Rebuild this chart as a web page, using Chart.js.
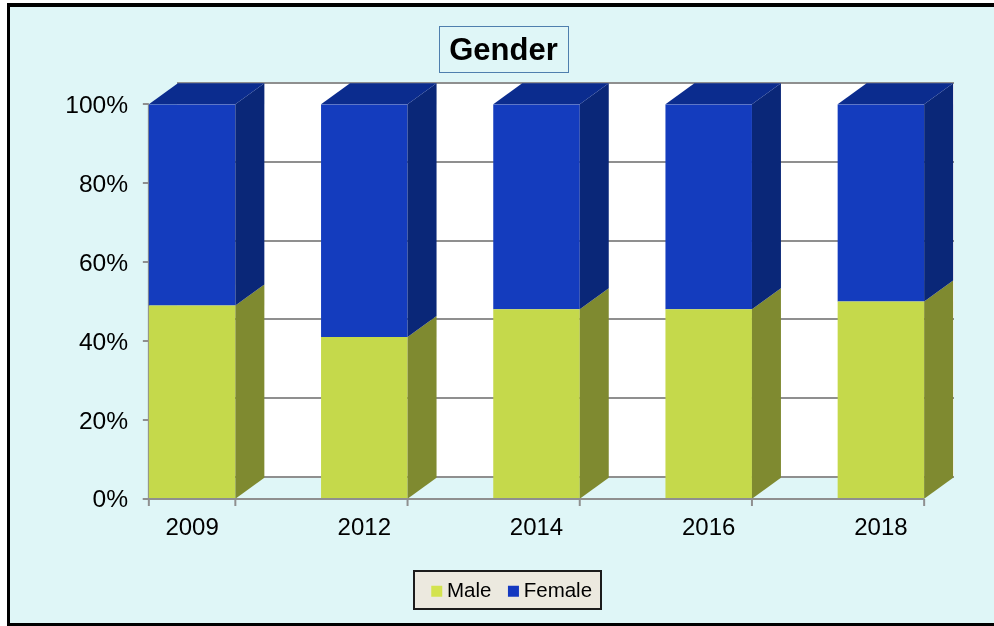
<!DOCTYPE html>
<html><head><meta charset="utf-8">
<style>html,body{margin:0;padding:0;background:#fff}#w{width:994px;height:626px}canvas{display:block}</style>
<script src="https://cdn.jsdelivr.net/npm/chart.js@4"></script>
</head><body><div id="w"><canvas id="c" width="994" height="626"></canvas></div>
<script>
const categories = ['2009','2012','2014','2016','2018'];
const maleValues = [49,41,48,48,50];
const femaleValues = [51,59,52,52,50];
const seriesNames = ['Male','Female'];
const chartTitle = 'Gender';

const frontColors = ['#c5d94b','#143cbe'];
const sideColors = ['#7f8a30','#0a2778'];
const swatchColors = ['#d3e34f','#1438c0'];
const topColor = '#0b2c8e';
const bgColor = '#dff6f7';
const axisGray = '#8f8f8f';
const DX = 29, DY = 21;
const FONT = 'Liberation Sans, Arial, sans-serif';

const threeD = {
  id:'threeD',
  afterLayout(chart){
    const t = chart.titleBlock, l = chart.legend;
    t.left = 439; t.right = 568;
    l.left = 414.75; l.right = 994; l.top = 559;
  },
  beforeDraw(chart){
    const {ctx,scales:{y}} = chart;
    ctx.save();
    ctx.fillStyle = '#000'; ctx.fillRect(7,3,987,623);
    ctx.fillStyle = bgColor; ctx.fillRect(10,7,984,616);
    // title frame
    ctx.strokeStyle = '#4f7fae'; ctx.lineWidth = 1;
    ctx.strokeRect(439.5,26.5,129,46);
    // legend frame
    ctx.fillStyle = '#ece9df'; ctx.fillRect(413,570,189,40);
    ctx.strokeStyle = '#1c1c1c'; ctx.lineWidth = 2;
    ctx.strokeRect(414,571,187,38);
    // back wall
    const bx = 148+DX, rx = 925+DX;
    const top = y.getPixelForValue(100)-DY, bot = y.getPixelForValue(0)-DY;
    ctx.fillStyle = '#fff'; ctx.fillRect(bx,top,rx-bx,bot-top);
    ctx.strokeStyle = axisGray; ctx.lineWidth = 2;
    y.ticks.forEach(tk=>{
      const py = Math.floor(y.getPixelForValue(tk.value)-DY);
      ctx.beginPath(); ctx.moveTo(bx,py); ctx.lineTo(rx,py); ctx.stroke();
    });
    // y axis line and tick marks
    const x0 = chart.getDatasetMeta(0).data[0];
    const ax = x0.x-x0.width/2;
    ctx.beginPath(); ctx.moveTo(ax,y.getPixelForValue(100)); ctx.lineTo(ax,y.getPixelForValue(0)); ctx.stroke();
    y.ticks.forEach(tk=>{
      const py = Math.round(y.getPixelForValue(tk.value));
      ctx.beginPath(); ctx.moveTo(ax-6,py); ctx.lineTo(ax,py); ctx.stroke();
    });
    ctx.restore();
  },
  afterDatasetsDraw(chart){
    const {ctx,scales:{y}} = chart;
    ctx.save();
    const face = (pts,c)=>{ctx.fillStyle=c;ctx.beginPath();pts.forEach((p,i)=>i?ctx.lineTo(p[0],p[1]):ctx.moveTo(p[0],p[1]));ctx.closePath();ctx.fill();};
    chart.data.datasets.forEach((ds,di)=>{
      chart.getDatasetMeta(di).data.forEach(b=>{
        const L=b.x-b.width/2,R=b.x+b.width/2,T=b.y,B=b.base;
        face([[R,B],[R+DX,B-DY],[R+DX,T-DY],[R,T]],sideColors[di]);
        if(di===chart.data.datasets.length-1)
          face([[L,T],[L+DX,T-DY],[R+DX,T-DY],[R,T]],topColor);
      });
    });
    // x axis line and its tick marks at the bar edges
    const meta = chart.getDatasetMeta(0).data;
    const yb = Math.round(y.getPixelForValue(0));
    const e0 = meta[0].x-meta[0].width/2;
    ctx.strokeStyle = axisGray; ctx.lineWidth = 2;
    ctx.beginPath(); ctx.moveTo(e0-6,yb); ctx.lineTo(meta[meta.length-1].x+meta[0].width/2,yb); ctx.stroke();
    const edges = [e0].concat(meta.map(b=>b.x+b.width/2));
    edges.forEach(e=>{ctx.beginPath();ctx.moveTo(e,yb);ctx.lineTo(e,yb+7);ctx.stroke();});
    ctx.restore();
  }
};

new Chart(document.getElementById('c'),{
  type:'bar',
  data:{labels:categories,datasets:[
    {label:seriesNames[0],data:maleValues,backgroundColor:frontColors[0],borderWidth:0},
    {label:seriesNames[1],data:femaleValues,backgroundColor:frontColors[1],borderWidth:0}
  ]},
  options:{
    responsive:false,animation:false,
    layout:{padding:{top:30,left:106,right:27,bottom:23}},
    datasets:{bar:{categoryPercentage:1,barPercentage:86.5/172.2}},
    plugins:{
      title:{display:true,text:chartTitle,color:'#000',font:{family:FONT,size:31,weight:'bold'},padding:{top:3,bottom:34}},
      legend:{display:true,position:'bottom',align:'start',labels:{
        usePointStyle:true,pointStyle:'rect',boxWidth:0.01,boxHeight:11,padding:22,color:'#000',
        font:{family:FONT,size:20.5},
        generateLabels(chart){return chart.data.datasets.map((d,i)=>({text:d.label,fillStyle:swatchColors[i],strokeStyle:swatchColors[i],lineWidth:0,pointStyle:'rect',datasetIndex:i,fontColor:'#000'}));}
      }},
      tooltip:{enabled:false}
    },
    scales:{
      x:{type:'category',stacked:true,offset:true,border:{display:false},
        grid:{display:false},
        ticks:{color:'#000',padding:7.5,maxRotation:0,font:{family:FONT,size:24}}},
      y:{stacked:true,min:0,max:100,position:{x:-64/172.2},
        border:{display:false},
        grid:{display:false},
        ticks:{stepSize:20,color:'#000',labelOffset:2,font:{family:FONT,size:24.6},callback:v=>v+'%'}}
    }
  },
  plugins:[threeD]
});
</script></body></html>
